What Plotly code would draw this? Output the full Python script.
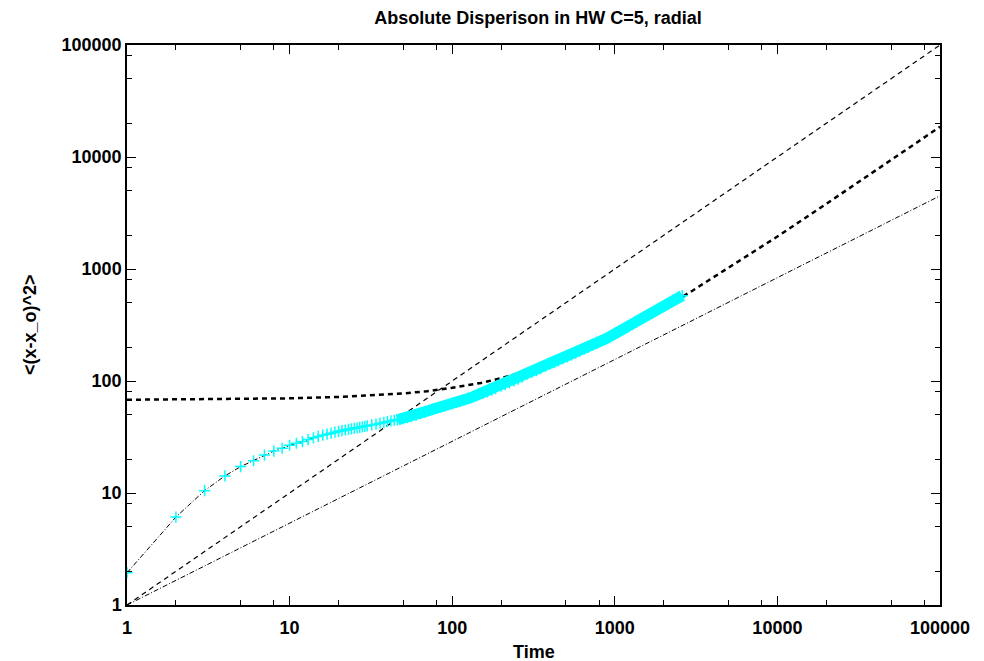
import plotly.graph_objects as go

# ---- data ----
time = [1, 2, 3, 4, 5, 6, 7, 8, 9, 10, 11, 12, 13, 14, 15, 16, 17, 18, 19, 20,
        21, 22, 23, 24, 25, 26, 27, 28, 29, 30, 32, 34, 36, 38, 40, 42, 44, 46, 48, 50,
        53, 56, 60, 64, 68, 72, 76, 80, 85, 90, 95, 100, 106, 112, 120, 128, 136, 145,
        155, 165, 175, 185, 200, 212, 225, 240, 255, 270, 290, 310, 330, 350, 375, 400,
        425, 450, 480, 510, 540, 575, 610, 650, 690, 730, 780, 830, 880, 940, 1000,
        1060, 1130, 1200, 1280, 1360, 1450, 1540, 1640, 1740, 1850, 1970, 2100, 2230,
        2370, 2500, 2600]
msd = [1.94, 6.1, 10.5, 14.2, 17.2, 19.4, 21.8, 23.7, 25.1, 26.7, 27.8, 28.8, 30.0, 31.1,
       32.0, 32.8, 33.5, 34.2, 34.9, 35.5, 36.0, 36.5, 37.0, 37.4, 37.8, 38.2, 38.6, 39.0,
       39.4, 39.8, 40.5, 41.2, 42.0, 42.7, 43.3, 44.0, 44.6, 45.0, 45.6, 46.2, 47.0, 48.0,
       49.5, 51.0, 52.5, 54.5, 56.0, 57.0, 58.5, 60.0, 61.5, 63.0, 64.5, 66.0, 68.0, 70.5,
       73.0, 76.0, 78.0, 80.0, 83.0, 85.5, 90, 93, 96, 100, 104, 108, 115, 120, 124, 129,
       136, 142, 146, 151, 158, 164, 170, 177, 185, 193, 201, 209, 219, 229, 238, 251,
       262, 274, 288, 302, 319, 337, 357, 376, 396, 416, 438, 460, 484, 508, 533, 558, 578]

# reference lines
ballistic_t = [1, 100000]
ballistic_y = [1, 100000]
sub_t = [1, 100000]
sub_y = [1, 4500]
fit_t = [1, 3, 10, 20, 30, 50, 70, 100, 150, 200, 300, 500, 700, 1000, 1500, 2000,
         3000, 5000, 10000, 20000, 50000, 100000]
fit_y = [68, 68.5, 70, 72, 74, 77.5, 81, 87, 96, 106, 125, 163, 200, 258, 353, 448,
         640, 1020, 1950, 3820, 9400, 18600]

major_vals = [1, 10, 100, 1000, 10000, 100000]
major_text = ["1", "10", "100", "1000", "10000", "100000"]
minor_vals = [2, 5, 8, 20, 50, 80, 200, 500, 800, 2000, 5000, 8000, 20000, 50000, 80000]

FONT = "Liberation Sans, Arial, sans-serif"

fig = go.Figure()

# thin dash-dot line through the data
fig.add_trace(go.Scatter(x=time, y=msd, mode="lines",
                         line=dict(color="black", width=1, dash="5px,2px,1px,2px")))
# y = x dashed
fig.add_trace(go.Scatter(x=ballistic_t, y=ballistic_y, mode="lines",
                         line=dict(color="black", width=1.2, dash="5px,4px")))
# thick dashed curve
fig.add_trace(go.Scatter(x=fit_t, y=fit_y, mode="lines",
                         line=dict(color="black", width=2.5, dash="5px,4px")))
# lower dash-dot line
fig.add_trace(go.Scatter(x=sub_t, y=sub_y, mode="lines",
                         line=dict(color="black", width=1, dash="5px,2px,1px,2px")))
# dense band part of the data
dense_start = time.index(46)
fig.add_trace(go.Scatter(x=time[dense_start:], y=msd[dense_start:], mode="lines",
                         line=dict(color="#00FFFF", width=11)))
# cyan + markers
fig.add_trace(go.Scatter(x=time, y=msd, mode="markers",
                         marker=dict(symbol="cross-thin", size=8, color="#00FFFF",
                                     line=dict(color="#00FFFF", width=1.5))))

axis_common = dict(
    type="log", range=[0, 5], tickmode="array", tickvals=major_vals, ticktext=major_text,
    ticks="inside", ticklen=9, tickwidth=1, tickcolor="black",
    showline=True, linecolor="black", linewidth=1.5, mirror="allticks",
    showgrid=False, zeroline=False,
    tickfont=dict(family=FONT, size=18, color="black", weight="bold"),
    minor=dict(tickmode="array", tickvals=minor_vals, ticks="inside", ticklen=5,
               tickwidth=1, tickcolor="black", showgrid=False),
)

fig.update_layout(
    width=984, height=661,
    margin=dict(l=127, r=44, t=45, b=56),
    paper_bgcolor="white", plot_bgcolor="white",
    showlegend=False,
    xaxis=dict(axis_common, ticklabelstandoff=6),
    yaxis=axis_common,
    title=dict(text="Absolute Disperison in HW C=5, radial",
               font=dict(family=FONT, size=18, color="black", weight="bold"),
               xref="paper", x=0.5055, xanchor="center",
               yref="container", y=1 - 18 / 661, yanchor="middle"),
    annotations=[
        dict(text="Time", xref="paper", yref="paper", x=0.5, y=0, yanchor="middle",
             yshift=-47, showarrow=False,
             font=dict(family=FONT, size=18, color="black", weight="bold")),
        dict(text="<(x-x_o)^2>", xref="paper", yref="paper", x=0, y=0.5,
             xanchor="center", xshift=-97, textangle=-90, showarrow=False,
             font=dict(family=FONT, size=18, color="black", weight="bold")),
    ],
)

fig.write_html("out.html")
